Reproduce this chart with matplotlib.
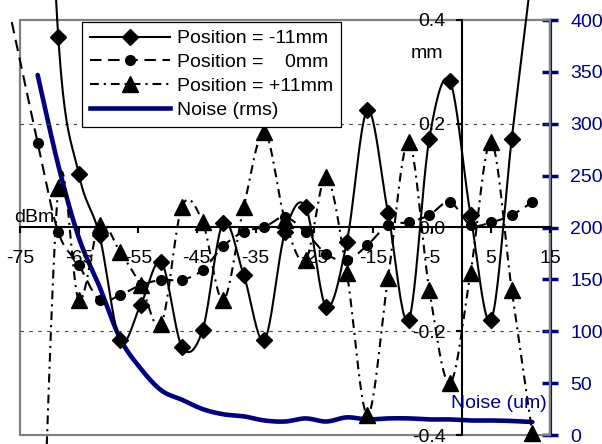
import numpy as np
import matplotlib
matplotlib.use('Agg')
import matplotlib.pyplot as plt
import matplotlib.ticker as mticker
from matplotlib.lines import Line2D
from matplotlib.patches import Rectangle

plt.rcParams['font.family'] = ['Liberation Sans', 'DejaVu Sans']
plt.rcParams['axes.unicode_minus'] = False

NAVY = '#000080'

# input power (dBm) of each measurement
x_dbm = [-72, -68.5, -65, -61.5, -58, -54.5, -51, -47.5, -44, -40.5, -37, -33.5,
         -30, -26.5, -23, -19.5, -16, -12.5, -9, -5.5, -2, 1.5, 5, 8.5, 12]
# the 0mm series has one extra point left of the axis
x_0mm_first = -76.4

pos_m11 = [1.3, 0.367, 0.103, -0.015, -0.217, -0.149, -0.067, -0.230, -0.198,
           0.009, -0.092, -0.217, -0.009, 0.040, -0.153, -0.028, 0.226, 0.028,
           -0.178, 0.171, 0.282, 0.025, -0.178, 0.171, 0.5]
pos_0 = [0.396, 0.163, -0.009, -0.072, -0.140, -0.130, -0.111, -0.101, -0.101,
         -0.082, -0.036, -0.008, 0.001, 0.020, -0.009, -0.051, -0.063, -0.034,
         0.005, 0.010, 0.024, 0.049, 0.005, 0.010, 0.024, 0.049]
pos_p11 = [-0.95, 0.076, -0.140, 0.005, -0.047, -0.111, -0.186, 0.040, 0.011,
           -0.140, 0.040, 0.184, 0.014, -0.063, 0.097, -0.088, -0.361, -0.097,
           0.165, -0.120, -0.300, -0.088, 0.165, -0.120, -0.397]
noise_rms = [347, 260, 190, 143, 93, 64, 43, 34, 25, 20, 18, 14, 13, 16, 13,
             17, 15, 16, 16, 15, 15, 14, 14, 13.5, 12.5]

labels = ['Position = -11mm', 'Position =    0mm', 'Position = +11mm', 'Noise (rms)']


def smooth(xs, ys, n=24):
    """Excel-like smoothed line (Catmull-Rom as cubic Bezier)."""
    p = np.column_stack([xs, ys]).astype(float)
    t = np.linspace(0, 1, n)[:, None]
    out = []
    for k in range(len(p) - 1):
        p0 = p[k - 1] if k > 0 else p[k]
        p3 = p[k + 2] if k + 2 < len(p) else p[k + 1]
        c1 = p[k] + (p[k + 1] - p0) / 6
        c2 = p[k + 1] - (p3 - p[k]) / 6
        seg = ((1 - t) ** 3 * p[k] + 3 * (1 - t) ** 2 * t * c1
               + 3 * (1 - t) * t ** 2 * c2 + t ** 3 * p[k + 1])
        out.append(seg if k == 0 else seg[1:])
    s = np.vstack(out)
    return s[:, 0], s[:, 1]


fig = plt.figure(figsize=(6.02, 4.44), dpi=100)
ax = fig.add_axes([20 / 602, 9 / 444, 530 / 602, 415 / 444])
ax2 = ax.twinx()
ax.set_zorder(ax2.get_zorder() + 1)
ax.patch.set_visible(False)

ax.set_xlim(-75, 15)
ax.set_ylim(-0.4, 0.4)
ax2.set_ylim(0, 400)

# plot area border and gridlines
ax.add_patch(Rectangle((0, 0), 1, 1, transform=ax.transAxes, fill=False,
                       ec='#808080', lw=1.6, zorder=0, clip_on=False))
for g in (0.2, -0.2):
    ax.axhline(g, color='0.25', lw=0.8, ls=(0, (3, 5)), zorder=0.5)

sty_m11 = dict(color='black', lw=1.5, ls='-')
sty_0 = dict(color='black', lw=1.5, ls=(0, (5.5, 3.2)))
sty_p11 = dict(color='black', lw=1.5, ls=(0, (4.2, 2.4, 1.0, 2.4)))
mk_m11 = dict(marker='D', ms=8.5, color='black')
mk_0 = dict(marker='o', ms=7, color='black')
mk_p11 = dict(marker='^', ms=11, color='black')

sx, sy = smooth(x_dbm, pos_m11)
ax.plot(sx, sy, clip_on=False, **sty_m11)
ax.plot(x_dbm, pos_m11, ls='none', **mk_m11)

x0 = [x_0mm_first] + x_dbm
sx, sy = smooth(x0, pos_0)
ax.plot(sx, sy, clip_on=False, **sty_0)
ax.plot(x_dbm, pos_0[1:], ls='none', **mk_0)

sx, sy = smooth(x_dbm, pos_p11)
ax.plot(sx, sy, clip_on=False, **sty_p11)
ax.plot(x_dbm, pos_p11, ls='none', clip_on=False, **mk_p11)

sx, sy = smooth(x_dbm, noise_rms)
ax2.plot(sx, sy, color=NAVY, lw=3.3, solid_capstyle='round')

# axes crossing at the origin
for side in ('top', 'right'):
    ax.spines[side].set_visible(False)
ax.spines['left'].set_position(('data', 0))
ax.spines['bottom'].set_position(('data', 0))
for side in ('left', 'bottom'):
    ax.spines[side].set_linewidth(1.5)
    ax.spines[side].set_zorder(1)

ax.set_xticks(np.arange(-75, 16, 10))
ax.set_yticks([-0.4, -0.2, 0, 0.2, 0.4])
ax.yaxis.set_major_formatter(mticker.FormatStrFormatter('%.1f'))
ax.tick_params(axis='x', direction='out', length=4.5, width=1.5, pad=12, labelsize=14)
ax.tick_params(axis='y', direction='out', length=4.5, width=1.5, pad=7, labelsize=14)

for side in ('left', 'top', 'bottom'):
    ax2.spines[side].set_visible(False)
ax2.spines['right'].set_color(NAVY)
ax2.spines['right'].set_linewidth(2.3)
ax2.set_yticks(np.arange(0, 401, 50))
ax2.tick_params(axis='y', colors=NAVY, direction='inout', length=11, width=2.5,
                pad=9, labelsize=14)

ax.text(-5.9, 0.336, 'mm', ha='center', va='center', fontsize=14)
ax.text(-69.2, 0.02, 'dBm', ha='right', va='center', fontsize=14, clip_on=False)
ax.text(0.994, 0.075, 'Noise (um)', transform=ax.transAxes, ha='right',
        va='center', fontsize=14, color=NAVY)

handles = [Line2D([], [], **sty_m11, **{k: v for k, v in mk_m11.items() if k != 'color'}),
           Line2D([], [], **sty_0, **{k: v for k, v in mk_0.items() if k != 'color'}),
           Line2D([], [], **sty_p11, **{k: v for k, v in mk_p11.items() if k != 'color'}),
           Line2D([], [], color=NAVY, lw=3.3)]
leg = ax.legend(handles, labels, loc='upper left',
                bbox_to_anchor=((82 - 20) / 530, (435 - 22) / 415),
                borderaxespad=0, fancybox=False, edgecolor='black', framealpha=1,
                handlelength=4.1, handletextpad=0.4, labelspacing=0.32,
                borderpad=0.4, fontsize=14, numpoints=1)
leg.get_frame().set_linewidth(0.9)

fig.savefig('out.png', dpi=100)
